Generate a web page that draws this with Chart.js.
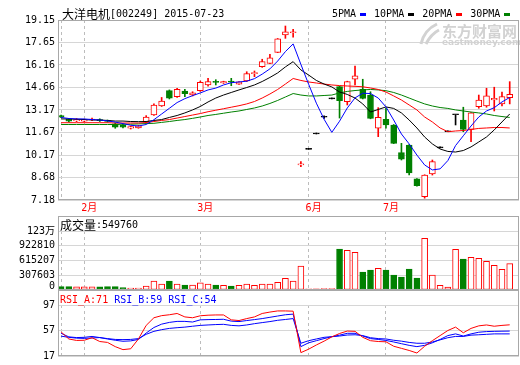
<!DOCTYPE html>
<html><head><meta charset="utf-8">
<script src="https://cdn.jsdelivr.net/npm/chart.js@4/dist/chart.umd.min.js"></script>
<style>
html,body{margin:0;padding:0;background:#fff;}
#wrap{position:relative;width:520px;height:365px;overflow:hidden;background:#fff;}
canvas{position:absolute;left:0;top:0;}
</style></head><body>
<div id="wrap">
<canvas id="cPrice" width="520" height="365"></canvas>
<canvas id="cVol" width="520" height="365"></canvas>
<canvas id="cRsi" width="520" height="365"></canvas>
</div>
<script>
// ---------------- data ----------------
const titleText = '大洋电机[002249] 2015-07-23';
const maNames = ['5PMA', '10PMA', '20PMA', '30PMA'];
const volName = '成交量';
const rsiNames = ['RSI_A', 'RSI_B', 'RSI_C'];
const rsiLast = [71, 59, 54];
const monthTicks = [0, 3, 18, 32, 42];
const monthLabels = ['', '2月', '3月', '6月', '7月'];
const priceTicks = [7.18, 8.68, 10.17, 11.67, 13.17, 14.66, 16.16, 17.65, 19.15];
const volTicks = [0, 307603, 615207, 922810, 1230413];
const volTickLabels = ['0', '307603', '615207', '922810', '123万'];
const rsiTicks = [17, 57, 97];

const openP = [12.79,12.57,12.44,12.42,12.50,12.52,12.44,12.24,12.17,11.96,11.98,12.37,12.83,13.43,14.45,14.05,14.43,14.16,14.45,14.83,
  15.05,14.96,15.08,14.89,15.10,15.58,16.05,16.27,17.00,18.15,18.30,9.52,10.55,11.57,12.68,13.90,14.72,13.72,15.21,14.54,
  14.16,11.95,12.55,12.17,10.33,10.84,8.58,7.40,8.91,10.65,11.72,12.85,12.50,11.88,13.39,13.43,13.83,13.57,13.98];
const closeP = [12.69,12.42,12.52,12.50,12.55,12.45,12.40,12.02,12.02,12.06,12.12,12.70,13.50,13.76,13.95,14.54,14.25,14.30,15.01,15.05,
  15.00,15.06,15.02,15.03,15.58,15.63,16.38,16.64,17.89,18.37,18.33,9.56,10.55,11.57,12.68,13.90,13.78,15.05,15.43,13.94,
  12.61,12.68,12.17,10.95,9.89,8.98,8.13,8.84,9.73,10.65,11.72,12.85,11.88,12.97,13.83,14.10,13.94,14.05,14.21];
const highP = [12.82,12.60,12.60,12.55,12.62,12.58,12.50,12.30,12.22,12.10,12.15,12.79,13.57,14.00,14.50,14.61,14.54,14.38,15.09,15.27,
  15.18,15.08,15.27,15.06,15.71,15.76,16.54,16.87,17.92,18.75,18.53,9.73,10.55,11.57,12.78,13.90,14.75,15.08,16.09,15.21,
  14.38,13.32,13.28,12.20,10.95,10.86,8.60,8.86,9.84,10.65,11.72,12.85,13.35,13.00,14.16,14.61,14.68,14.36,15.05];
const lowP = [12.66,12.36,12.38,12.38,12.45,12.40,12.35,11.95,11.98,11.90,11.95,12.30,12.80,13.40,13.90,14.00,14.05,14.10,14.40,14.75,
  14.83,14.93,14.78,14.87,15.06,15.38,16.00,16.25,16.98,17.93,18.00,9.40,10.55,11.57,12.60,13.90,12.63,13.50,14.83,13.90,
  12.58,11.39,11.95,10.93,9.84,8.85,8.10,7.30,8.84,10.65,11.72,12.17,11.72,11.06,13.28,13.35,13.10,13.43,13.57];
const volume = [69000,69000,65000,66000,68000,67000,69000,70000,48000,42000,42000,83000,188000,125000,188000,125000,104000,104000,152000,125000,
  104000,98000,83000,98000,125000,98000,125000,125000,160000,244000,188000,500000,25000,22000,28000,30000,855000,828000,786000,375000,
  417000,453000,417000,313000,271000,438000,250000,1078000,313000,98000,63000,849000,646000,682000,661000,598000,515000,432000,549760];
const ma5 = [12.67,12.60,12.57,12.57,12.53,12.50,12.44,12.36,12.26,12.15,12.10,12.20,12.52,12.90,13.28,13.66,13.92,14.12,14.30,14.50,
  14.62,14.83,14.98,15.03,15.08,15.25,15.55,15.90,16.42,17.05,17.56,16.20,14.88,13.62,12.55,11.68,12.42,13.30,13.97,14.28,
  14.26,13.96,13.37,12.50,11.57,10.91,10.17,9.51,9.18,9.25,9.80,10.80,11.45,12.10,12.70,13.10,13.32,13.70,14.00];
const ma10 = [12.57,12.57,12.55,12.53,12.50,12.50,12.47,12.43,12.43,12.40,12.39,12.40,12.47,12.53,12.67,12.80,12.97,13.17,13.40,13.70,
  13.96,14.16,14.33,14.50,14.66,14.83,15.06,15.33,15.63,16.03,16.38,15.83,15.49,15.13,14.89,14.70,14.36,14.20,13.96,13.57,
  13.03,13.20,13.37,13.27,12.97,12.50,11.97,11.37,10.91,10.57,10.41,10.37,10.47,10.71,11.04,11.37,11.84,12.37,12.90];
const ma20 = [12.32,12.32,12.32,12.32,12.32,12.32,12.32,12.30,12.30,12.30,12.30,12.33,12.40,12.47,12.53,12.63,12.73,12.83,12.93,13.05,
  13.15,13.25,13.35,13.45,13.57,13.73,13.96,14.23,14.53,14.89,15.26,15.13,15.03,14.96,14.89,14.83,14.79,14.76,14.74,14.71,
  14.63,14.53,14.36,14.10,13.83,13.50,13.17,12.70,12.37,11.97,11.72,11.77,11.80,11.87,11.94,11.97,12.00,12.00,11.97];
const ma30 = [12.20,12.20,12.20,12.20,12.20,12.20,12.20,12.20,12.22,12.22,12.24,12.26,12.28,12.34,12.40,12.47,12.53,12.61,12.70,12.80,
  12.87,12.95,13.03,13.10,13.20,13.30,13.43,13.60,13.80,14.03,14.26,14.16,14.10,14.10,14.13,14.16,14.30,14.40,14.46,14.50,
  14.53,14.50,14.45,14.33,14.16,13.96,13.76,13.57,13.43,13.33,13.27,13.17,13.10,13.03,12.97,12.90,12.80,12.73,12.67];
const rsiA = [54.7,43.7,41.4,41.7,45.7,39.7,38.3,31.7,27.0,28.3,43.7,65.0,77.0,80.3,81.7,83.7,78.3,77.0,80.1,81.0,
  81.4,81.4,73.7,72.6,75.7,78.3,83.7,85.9,87.7,87.7,87.3,22.3,27.7,34.3,40.3,47.0,52.3,56.1,55.7,46.3,
  41.0,39.7,39.3,32.3,29.0,25.7,21.7,32.3,41.0,49.0,57.0,62.3,53.4,60.3,64.3,65.7,63.7,65.0,65.9];
const rsiB = [52.6,47.0,45.9,46.3,47.7,45.9,43.7,41.7,40.1,40.7,43.0,53.0,61.7,67.0,69.7,71.3,71.3,70.3,73.7,74.1,
  74.3,74.6,71.7,71.0,72.6,74.1,75.7,77.7,79.7,81.7,82.7,31.7,37.7,41.0,44.3,47.3,49.7,52.6,52.6,48.3,
  44.3,43.0,41.4,39.0,36.3,33.7,31.7,33.7,37.7,43.0,49.0,51.7,48.3,51.7,54.3,55.3,55.7,55.9,56.1];
const rsiC = [48.1,46.3,45.0,44.6,45.3,45.9,44.3,43.0,42.7,43.0,44.3,51.0,55.7,58.3,60.3,61.4,62.3,63.7,65.0,65.7,
  66.3,66.7,65.0,64.3,65.7,67.7,69.4,71.0,73.0,74.3,75.7,37.0,41.0,43.7,46.3,47.3,48.3,49.9,50.3,49.0,
  45.7,44.3,43.7,41.7,40.3,38.3,37.0,37.0,39.0,42.3,45.7,47.7,47.7,49.7,50.3,51.0,51.7,51.7,51.7];

// ---------------- styling ----------------
const RED = '#ff0000', GREEN = '#008000', BLACK = '#000000', BLUE = '#0000ff';
const GRID = '#d6d6d6', FRAME = '#a8a8a8', DASH = '#bcbcbc';
const FONT_ASCII = "10px 'DejaVu Sans Mono'";
const FONT_CJK = "12px 'Noto Sans CJK SC'";
const TICK_FONT = {family: "'DejaVu Sans Mono', 'Noto Sans CJK SC', monospace", size: 10};
const X_MIN = -0.4, X_MAX = 59.2;

function drawMixed(ctx, text, x, y, color) {
  ctx.fillStyle = color;
  ctx.textBaseline = 'middle';
  ctx.textAlign = 'left';
  const re = /([\u2E80-\u9FFF\uFF00-\uFFEF]+)|([^\u2E80-\u9FFF\uFF00-\uFFEF]+)/g;
  let m;
  while ((m = re.exec(text))) {
    ctx.font = m[1] ? FONT_CJK : FONT_ASCII;
    ctx.fillText(m[0], x, y);
    x += ctx.measureText(m[0]).width;
  }
  return x;
}

function xScale(showLabels) {
  return {
    type: 'linear', min: X_MIN, max: X_MAX, offset: false,
    afterBuildTicks: s => { s.ticks = monthTicks.map(v => ({value: v})); },
    afterFit: s => { s.height = showLabels ? 16 : 0; },
    grid: {color: DASH, lineWidth: 1, drawTicks: false, offset: false},
    border: {display: false, dash: [3, 3]},
    ticks: {display: showLabels, autoSkip: false, maxRotation: 0, minRotation: 0, align: 'start', labelOffset: -3,
      padding: 2, color: RED, font: TICK_FONT, callback: (v, i) => monthLabels[i]}
  };
}
function yScale(min, max, ticks, labelFn) {
  return {
    type: 'linear', min: min, max: max,
    afterBuildTicks: s => { s.ticks = ticks.map(v => ({value: v})); },
    afterFit: s => { s.width = 58; },
    grid: {color: GRID, lineWidth: 1, drawTicks: false},
    border: {display: false},
    ticks: {color: BLACK, font: TICK_FONT, padding: 3, autoSkip: false, callback: labelFn}
  };
}
function framePlugin(topOffset) {
  return {
    id: 'frame',
    afterDraw(chart) {
      const {ctx, chartArea: a} = chart;
      ctx.save();
      ctx.strokeStyle = FRAME; ctx.lineWidth = 1;
      const top = a.top - topOffset;
      ctx.strokeRect(a.left + 0.5, top + 0.5, a.right - a.left - 1, a.bottom - top - 1);
      ctx.restore();
    }
  };
}
function headerPlugin(drawFn, before) {
  const p = {id: 'hdr'};
  if (before) p.beforeDatasetsDraw = chart => drawFn(chart.ctx, chart);
  else p.afterDraw = chart => drawFn(chart.ctx, chart);
  return p;
}
const baseOpts = {responsive: false, animation: false, events: [],
  plugins: {legend: {display: false}, tooltip: {enabled: false}, title: {display: false}}};

const dir = closeP.map((c, i) => c > openP[i] ? 1 : (c < openP[i] ? -1 : 0));
const candleColor = dir.map(d => d > 0 ? RED : (d < 0 ? GREEN : BLACK));
const bodyFill = dir.map(d => d > 0 ? '#ffffff' : (d < 0 ? GREEN : BLACK));
const volColor = dir.map(d => d < 0 ? GREEN : RED);
const volFill = dir.map(d => d < 0 ? GREEN : '#ffffff');
const pts = arr => arr.map((v, i) => ({x: i, y: v}));
const lineDs = (arr, color) => ({type: 'line', data: pts(arr), borderColor: color, borderWidth: 1,
  pointRadius: 0, tension: 0, fill: false});

// ---------------- price chart ----------------
new Chart(document.getElementById('cPrice'), {
  type: 'line',
  data: {datasets: [
    lineDs(ma5, BLUE), lineDs(ma10, BLACK), lineDs(ma20, RED), lineDs(ma30, GREEN),
    {type: 'bar', data: openP.map((o, i) => ({x: i, y: [o, closeP[i]]})), backgroundColor: bodyFill,
      borderColor: candleColor, borderWidth: 1, borderSkipped: false, barThickness: 6, minBarLength: 1, grouped: false},
    {type: 'bar', data: lowP.map((l, i) => ({x: i, y: [l, highP[i]]})), backgroundColor: candleColor,
      borderWidth: 0, barThickness: 1, minBarLength: 1, grouped: false}
  ]},
  options: Object.assign({}, baseOpts, {
    layout: {padding: {top: 20, right: 1, bottom: 149, left: 0}},
    scales: {x: xScale(true), y: yScale(priceTicks[0], priceTicks[priceTicks.length - 1], priceTicks, v => v.toFixed(2))}
  }),
  plugins: [framePlugin(0),
    headerPlugin((ctx) => {
      ctx.save();
      ctx.fillStyle = '#d2d2d2';
      ctx.strokeStyle = '#d2d2d2';
      ctx.lineWidth = 3;
      ctx.beginPath();
      ctx.moveTo(421, 44); ctx.quadraticCurveTo(424, 30, 437, 24);
      ctx.moveTo(426, 44); ctx.quadraticCurveTo(431, 34, 439, 30);
      ctx.stroke();
      ctx.font = "bold 15px 'Noto Sans CJK SC'"; ctx.textBaseline = 'middle'; ctx.textAlign = 'left';
      ctx.fillText('东方财富网', 442, 31);
      ctx.font = "bold 9px 'DejaVu Sans'";
      ctx.fillText('eastmoney.com', 442, 43);
      ctx.restore();
    }, true),
    headerPlugin((ctx) => {
      ctx.save();
      drawMixed(ctx, titleText, 62, 14, BLACK);
      const maColors = [BLUE, BLACK, RED, GREEN];
      let x = 332;
      maNames.forEach((n, k) => {
        x = drawMixed(ctx, n, x, 14, BLACK);
        ctx.fillStyle = maColors[k];
        ctx.fillRect(Math.round(x) + 4, 13, 6, 3);
        x += 18;
      });
      ctx.restore();
    }, false)]
});

// ---------------- volume chart ----------------
new Chart(document.getElementById('cVol'), {
  type: 'line',
  data: {datasets: [
    {type: 'bar', data: pts(volume), backgroundColor: volFill, borderColor: volColor, borderWidth: 1,
      borderSkipped: false, barThickness: 6, minBarLength: 1, grouped: false}
  ]},
  options: Object.assign({}, baseOpts, {
    layout: {padding: {top: 231, right: 1, bottom: 75, left: 0}},
    scales: {x: xScale(false), y: yScale(volTicks[0], volTicks[volTicks.length - 1], volTicks,
      (v, i) => i === 0 ? '' : volTickLabels[i])}
  }),
  plugins: [framePlugin(15),
    headerPlugin((ctx, chart) => {
      ctx.save();
      drawMixed(ctx, volName + ':' + volume[volume.length - 1], 60, 225, BLACK);
      // zero label sits just above the bottom edge, as in the original
      const ys = chart.scales.y;
      ctx.font = FONT_ASCII; ctx.fillStyle = BLACK; ctx.textAlign = 'right'; ctx.textBaseline = 'bottom';
      ctx.fillText(volTickLabels[0], ys.right - 3, ys.getPixelForValue(volTicks[0]) + 1);
      ctx.restore();
    }, false)]
});

// ---------------- RSI chart ----------------
new Chart(document.getElementById('cRsi'), {
  type: 'line',
  data: {datasets: [lineDs(rsiA, RED), lineDs(rsiB, BLUE), lineDs(rsiC, BLUE)]},
  options: Object.assign({}, baseOpts, {
    layout: {padding: {top: 305, right: 1, bottom: 1, left: 0}},
    scales: {x: xScale(false), y: yScale(rsiTicks[0], rsiTicks[rsiTicks.length - 1], rsiTicks, v => String(v))}
  }),
  plugins: [framePlugin(15),
    headerPlugin((ctx) => {
      ctx.save();
      const cols = [RED, BLUE, BLUE];
      let x = 60;
      rsiNames.forEach((n, k) => {
        x = drawMixed(ctx, n + ':' + rsiLast[k], x, 300, cols[k]);
        x += 6;
      });
      ctx.restore();
    }, false)]
});
</script>
</body></html>
